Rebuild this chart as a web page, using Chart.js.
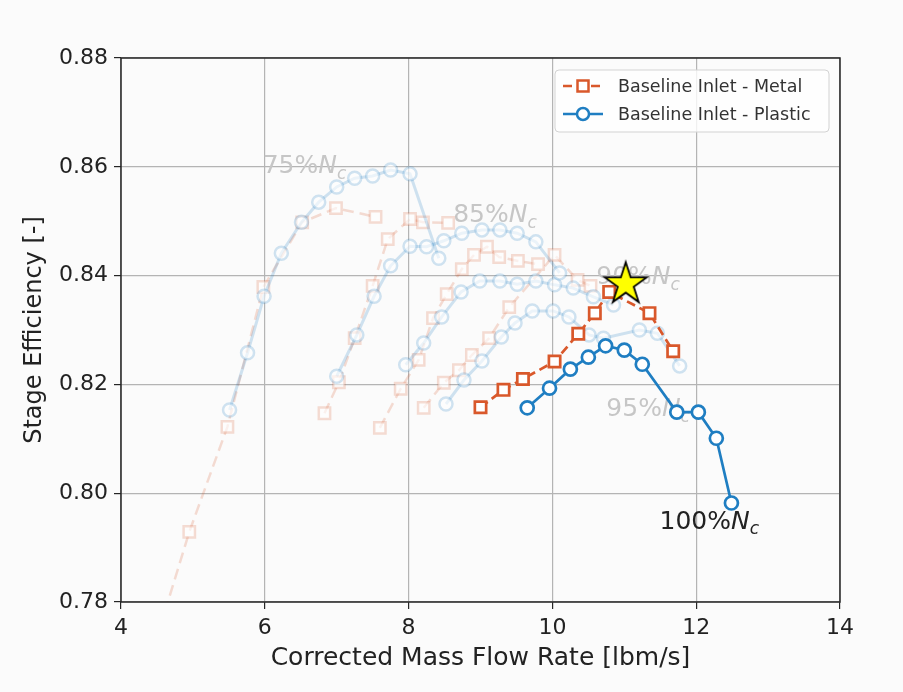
<!DOCTYPE html>
<html>
<head>
<meta charset="utf-8">
<script src="https://cdn.jsdelivr.net/npm/chart.js@4.4.0/dist/chart.umd.min.js"></script>
<style>
html, body { margin: 0; background: #fbfbfb; }
</style>
</head>
<body>
<canvas id="c" width="903" height="692"></canvas>
<script>
// ---- data ----
const xTicks = [4, 6, 8, 10, 12, 14];
const yTicks = [0.78, 0.80, 0.82, 0.84, 0.86, 0.88];

// plastic inlet, 100% Nc (highlighted)
const plastic100X = [9.65, 9.96, 10.25, 10.50, 10.74, 11.00, 11.25, 11.73, 12.03, 12.28, 12.49];
const plastic100Y = [0.8157, 0.8193, 0.8228, 0.8250, 0.8271, 0.8263, 0.8237, 0.8149, 0.8149, 0.8101, 0.7982];
// metal inlet, 100% Nc (highlighted)
const metal100X = [9.00, 9.32, 9.59, 10.03, 10.36, 10.59, 10.79, 11.35, 11.68];
const metal100Y = [0.8158, 0.8190, 0.8210, 0.8242, 0.8293, 0.8331, 0.8370, 0.8331, 0.8261];

// faded speed lines, plastic
const plastic75X = [5.51, 5.76, 5.99, 6.23, 6.51, 6.75, 7.00, 7.25, 7.50, 7.75, 8.02, 8.42];
const plastic75Y = [0.8153, 0.8258, 0.8362, 0.8441, 0.8498, 0.8535, 0.8563, 0.8579, 0.8583, 0.8594, 0.8587, 0.8432];
const plastic85X = [7.00, 7.28, 7.52, 7.75, 8.02, 8.25, 8.49, 8.74, 9.02, 9.27, 9.51, 9.77, 10.10];
const plastic85Y = [0.8215, 0.8291, 0.8362, 0.8418, 0.8454, 0.8453, 0.8464, 0.8478, 0.8484, 0.8484, 0.8478, 0.8462, 0.8405];
const plastic90X = [7.96, 8.21, 8.46, 8.73, 8.99, 9.27, 9.51, 9.77, 10.03, 10.29, 10.57, 10.85];
const plastic90Y = [0.8236, 0.8276, 0.8324, 0.8370, 0.8390, 0.8390, 0.8384, 0.8390, 0.8383, 0.8377, 0.8361, 0.8346];
const plastic95X = [8.52, 8.77, 9.02, 9.29, 9.48, 9.72, 10.01, 10.23, 10.51, 10.71, 11.21, 11.46, 11.77];
const plastic95Y = [0.8164, 0.8208, 0.8243, 0.8287, 0.8313, 0.8335, 0.8335, 0.8324, 0.8291, 0.8285, 0.8300, 0.8294, 0.8234];

// faded speed lines, metal
const metal75X = [4.54, 4.95, 5.48, 5.98, 6.52, 6.99, 7.54];
const metal75Y = [0.7752, 0.7929, 0.8122, 0.8379, 0.8498, 0.8524, 0.8508];
const metal85X = [6.83, 7.03, 7.25, 7.50, 7.71, 8.02, 8.20, 8.55];
const metal85Y = [0.8147, 0.8204, 0.8285, 0.8381, 0.8467, 0.8504, 0.8498, 0.8497];
const metal90X = [7.60, 7.89, 8.14, 8.34, 8.53, 8.74, 8.91, 9.09, 9.26, 9.52, 9.80];
const metal90Y = [0.8120, 0.8192, 0.8245, 0.8322, 0.8366, 0.8412, 0.8438, 0.8453, 0.8434, 0.8427, 0.8421];
const metal95X = [8.21, 8.49, 8.70, 8.88, 9.12, 9.40, 10.03, 10.35, 10.53];
const metal95Y = [0.8157, 0.8203, 0.8226, 0.8254, 0.8285, 0.8342, 0.8438, 0.8392, 0.8381];

// design point
const starX = [11.02];
const starY = [0.8386];

// speed line annotations
const speedLabels = ['75%', '85%', '90%', '95%', '100%'];
const speedLabelX = [5.97, 8.62, 10.61, 10.75, 11.49];
const speedLabelY = [0.8600, 0.8511, 0.8397, 0.8153, 0.7947];
const speedLabelDark = [false, false, false, false, true];

// ---- styles ----
const FONT = '"DejaVu Sans", sans-serif';
const ORANGE = '#d9582b';
const BLUE = '#1f7ec2';
const ORANGE_FADE = 'rgba(217, 88, 43, 0.2)';
const BLUE_FADE = 'rgba(31, 126, 194, 0.2)';

function pts(xs, ys) {
  return xs.map((x, i) => ({ x: x, y: ys[i] }));
}

function makeStar() {
  const c = document.createElement('canvas');
  c.width = 52; c.height = 52;
  const g = c.getContext('2d');
  const R = 22, r = R * 0.382;
  g.beginPath();
  for (let i = 0; i < 10; i++) {
    const rad = i % 2 === 0 ? R : r;
    const a = -Math.PI / 2 + i * Math.PI / 5;
    const px = 26 + rad * Math.cos(a), py = 27 + rad * Math.sin(a);
    if (i === 0) g.moveTo(px, py); else g.lineTo(px, py);
  }
  g.closePath();
  g.fillStyle = '#ffff00';
  g.fill();
  g.lineWidth = 1.8;
  g.lineJoin = 'miter';
  g.strokeStyle = '#000';
  g.stroke();
  return c;
}

function fadedPlastic(xs, ys) {
  return {
    data: pts(xs, ys), borderColor: BLUE_FADE, borderWidth: 3,
    pointStyle: 'circle', pointRadius: 6.5, pointBorderWidth: 2.5,
    pointBorderColor: BLUE_FADE, pointBackgroundColor: 'rgba(255,255,255,0.6)'
  };
}
function fadedMetal(xs, ys) {
  return {
    data: pts(xs, ys), borderColor: ORANGE_FADE, borderWidth: 2.5, borderDash: [11, 6],
    pointStyle: 'rect', pointRadius: 8, pointBorderWidth: 2.5,
    pointBorderColor: ORANGE_FADE, pointBackgroundColor: 'rgba(255,255,255,0.6)'
  };
}

// first dataset is drawn on top
const datasets = [
  {
    label: 'design', data: pts(starX, starY), showLine: false,
    pointStyle: makeStar(), pointRadius: 20
  },
  {
    label: 'Baseline Inlet - Plastic', data: pts(plastic100X, plastic100Y),
    borderColor: BLUE, borderWidth: 2.7,
    pointStyle: 'circle', pointRadius: 6.5, pointBorderWidth: 2.7,
    pointBorderColor: BLUE, pointBackgroundColor: '#ffffff'
  },
  {
    label: 'Baseline Inlet - Metal', data: pts(metal100X, metal100Y),
    borderColor: ORANGE, borderWidth: 2.7, borderDash: [9, 5],
    pointStyle: 'rect', pointRadius: 8, pointBorderWidth: 2.7,
    pointBorderColor: ORANGE, pointBackgroundColor: '#ffffff'
  },
  fadedPlastic(plastic75X, plastic75Y),
  fadedPlastic(plastic85X, plastic85Y),
  fadedPlastic(plastic90X, plastic90Y),
  fadedPlastic(plastic95X, plastic95Y),
  fadedMetal(metal75X, metal75Y),
  fadedMetal(metal85X, metal85Y),
  fadedMetal(metal90X, metal90Y),
  fadedMetal(metal95X, metal95Y)
];

// background, frame, speed labels, legend
const decor = {
  id: 'decor',
  beforeDraw(chart) {
    const ctx = chart.ctx;
    ctx.save();
    ctx.fillStyle = '#fbfbfb';
    ctx.fillRect(0, 0, chart.width, chart.height);
    ctx.restore();
  },
  beforeDatasetsDraw(chart) {
    const ctx = chart.ctx, xs = chart.scales.x, ys = chart.scales.y;
    ctx.save();
    ctx.textBaseline = 'middle';
    ctx.textAlign = 'left';
    speedLabels.forEach((t, i) => {
      const px = xs.getPixelForValue(speedLabelX[i]);
      const py = ys.getPixelForValue(speedLabelY[i]);
      ctx.fillStyle = speedLabelDark[i] ? '#222222' : '#c6c6c6';
      ctx.font = '25px ' + FONT;
      ctx.fillText(t, px, py);
      let w = ctx.measureText(t).width;
      ctx.font = 'italic 25px ' + FONT;
      ctx.fillText('N', px + w, py);
      w += ctx.measureText('N').width;
      ctx.font = 'italic 17px ' + FONT;
      ctx.fillText('c', px + w, py + 8);
    });
    ctx.restore();
  },
  afterDraw(chart) {
    const ctx = chart.ctx, a = chart.chartArea;
    ctx.save();
    ctx.strokeStyle = '#262626';
    ctx.lineWidth = 1.5;
    ctx.strokeRect(a.left, a.top, a.right - a.left, a.bottom - a.top);

    // legend box
    const bx = a.right - 285, by = a.top + 12, bw = 274, bh = 62;
    ctx.beginPath();
    ctx.roundRect(bx, by, bw, bh, 4);
    ctx.fillStyle = 'rgba(255,255,255,0.8)';
    ctx.fill();
    ctx.strokeStyle = '#d3d3d3';
    ctx.lineWidth = 1;
    ctx.stroke();

    const items = [
      { text: 'Baseline Inlet - Metal', color: ORANGE, dash: [9, 5], shape: 'rect' },
      { text: 'Baseline Inlet - Plastic', color: BLUE, dash: [], shape: 'circle' }
    ];
    items.forEach((it, i) => {
      const ly = by + 16 + i * 28;
      const lx0 = bx + 8, lx1 = bx + 48, mx = bx + 28;
      ctx.strokeStyle = it.color;
      ctx.lineWidth = 2.5;
      ctx.setLineDash(it.dash);
      ctx.beginPath();
      ctx.moveTo(lx0, ly);
      ctx.lineTo(lx1, ly);
      ctx.stroke();
      ctx.setLineDash([]);
      ctx.fillStyle = '#ffffff';
      ctx.beginPath();
      if (it.shape === 'rect') ctx.rect(mx - 5.5, ly - 5.5, 11, 11);
      else ctx.arc(mx, ly, 6, 0, Math.PI * 2);
      ctx.fill();
      ctx.stroke();
      ctx.fillStyle = '#333333';
      ctx.font = '17.5px ' + FONT;
      ctx.textBaseline = 'middle';
      ctx.textAlign = 'left';
      ctx.fillText(it.text, bx + 63, ly + 1);
    });
    ctx.restore();
  }
};

new Chart(document.getElementById('c'), {
  type: 'line',
  data: { datasets: datasets },
  options: {
    responsive: false,
    animation: false,
    layout: { padding: { top: 58, right: 63, left: 0, bottom: 0 } },
    plugins: { legend: { display: false }, tooltip: { enabled: false } },
    elements: { line: { tension: 0 } },
    scales: {
      x: {
        type: 'linear', min: 4, max: 14,
        afterFit: (s) => { s.height = 90; },
        afterBuildTicks: (s) => { s.ticks = xTicks.map(v => ({ value: v })); },
        ticks: { font: { family: FONT, size: 22 }, color: '#222', padding: 6 },
        grid: { color: '#b4b4b4', lineWidth: 1.2, tickLength: 7, tickColor: '#262626' },
        border: { display: false },
        title: {
          display: true, text: 'Corrected Mass Flow Rate [lbm/s]',
          font: { family: FONT, size: 25 }, color: '#222', padding: { top: 0, bottom: 19 }
        }
      },
      y: {
        type: 'linear', min: 0.78, max: 0.88,
        afterFit: (s) => { s.width = 121; },
        afterBuildTicks: (s) => { s.ticks = yTicks.map(v => ({ value: v })); },
        ticks: {
          font: { family: FONT, size: 22 }, color: '#222', padding: 6,
          callback: (v) => Number(v).toFixed(2)
        },
        grid: { color: '#b4b4b4', lineWidth: 1.2, tickLength: 7, tickColor: '#262626' },
        border: { display: false },
        title: {
          display: true, text: 'Stage Efficiency [-]',
          font: { family: FONT, size: 24 }, color: '#222', padding: { top: 20, bottom: 0 }
        }
      }
    }
  },
  plugins: [decor]
});
</script>
</body>
</html>
